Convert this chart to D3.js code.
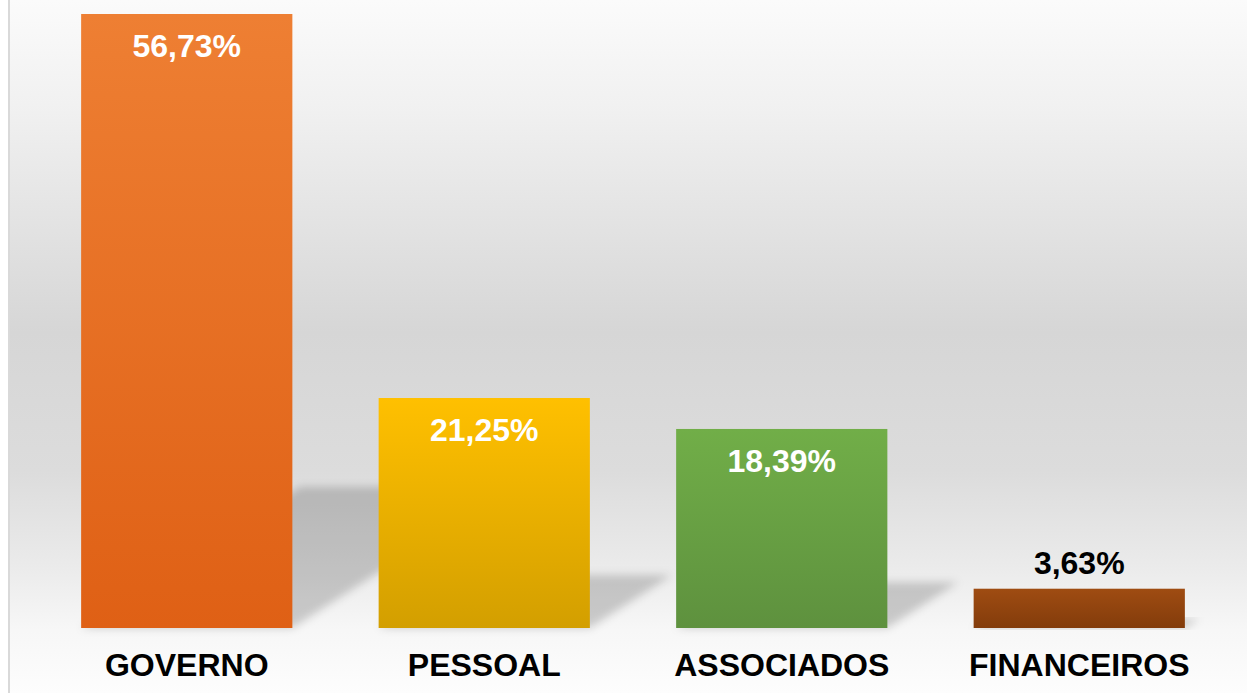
<!DOCTYPE html>
<html>
<head>
<meta charset="utf-8">
<script src="https://cdn.jsdelivr.net/npm/d3@7"></script>
<style>
  html, body { margin: 0; padding: 0; background: #ffffff; }
  svg { display: block; }
</style>
</head>
<body>
<svg id="chart" width="1247" height="693"></svg>
<script>
'use strict';

// data
const categories = ['GOVERNO', 'PESSOAL', 'ASSOCIADOS', 'FINANCEIROS'];
const values = [56.73, 21.25, 18.39, 3.63];

// bar colours (top, bottom)
const topColors = ['#ee7f33', '#ffc000', '#71ae48', '#9f4c12'];
const bottomColors = ['#df6015', '#d39f00', '#5e913e', '#833c0b'];

const W = 1247, H = 693;
const baseY = 628;

const ptFormat = d3.formatLocale({decimal: ',', thousands: '.', grouping: [3], currency: ['', '']}).format('.2f');

function drawChart() {
    const svg = d3.select('#chart');
    const defs = svg.append('defs');

    // background gradient
    const bg = defs.append('linearGradient')
        .attr('id', 'bg')
        .attr('x1', 0).attr('y1', 0).attr('x2', 0).attr('y2', 1);
    [[0, '#fbfbfb'], [0.15, '#f1f1f1'], [0.48, '#d6d6d6'], [0.68, '#dcdcdc'],
     [0.82, '#ebebeb'], [0.91, '#f7f7f7'], [1, '#fdfdfd']].forEach(function(s) {
        bg.append('stop').attr('offset', s[0]).attr('stop-color', s[1]);
    });

    categories.forEach(function(c, i) {
        const g = defs.append('linearGradient')
            .attr('id', 'bar' + i)
            .attr('x1', 0).attr('y1', 0).attr('x2', 0).attr('y2', 1);
        g.append('stop').attr('offset', 0).attr('stop-color', topColors[i]);
        g.append('stop').attr('offset', 1).attr('stop-color', bottomColors[i]);
    });

    defs.append('filter')
        .attr('id', 'blur')
        .attr('x', '-20%').attr('y', '-20%').attr('width', '140%').attr('height', '140%')
        .append('feGaussianBlur')
        .attr('stdDeviation', 4);

    svg.append('rect')
        .attr('x', 10).attr('y', 0)
        .attr('width', W - 10).attr('height', H)
        .style('fill', 'url(#bg)');

    svg.append('rect')
        .attr('x', 8).attr('y', 0)
        .attr('width', 2).attr('height', H)
        .style('fill', '#d9d9d9');

    const x = d3.scaleBand()
        .domain(categories)
        .range([38, 1228])
        .paddingInner(0.29)
        .paddingOuter(0.145);

    const y = d3.scaleLinear()
        .domain([0, d3.max(values)])
        .range([baseY, 14]);

    const data = categories.map(function(c, i) { return {cat: c, val: values[i], i: i}; });

    // perspective shadows behind the bars
    svg.append('g')
        .selectAll('path')
        .data(data)
        .enter()
        .append('path')
        .attr('d', function(d) {
            const x0 = x(d.cat), x1 = x(d.cat) + x.bandwidth();
            const h = (baseY - y(d.val)) * 0.23;
            const s = h * 1.55;
            return 'M' + x0 + ',' + baseY + 'L' + x1 + ',' + baseY +
                'L' + (x1 + s) + ',' + (baseY - h) + 'L' + (x0 + s) + ',' + (baseY - h) + 'Z';
        })
        .style('fill', '#000')
        .style('fill-opacity', 0.18)
        .attr('filter', 'url(#blur)');

    svg.append('g')
        .selectAll('rect')
        .data(data)
        .enter()
        .append('rect')
        .attr('x', function(d) { return x(d.cat); })
        .attr('y', function(d) { return y(d.val); })
        .attr('width', x.bandwidth())
        .attr('height', function(d) { return baseY - y(d.val); })
        .style('fill', function(d) { return 'url(#bar' + d.i + ')'; });

    // value labels: inside for tall bars, above for short ones
    svg.append('g')
        .selectAll('text')
        .data(data)
        .enter()
        .append('text')
        .attr('x', function(d) { return x(d.cat) + x.bandwidth() / 2; })
        .attr('y', function(d) {
            const inside = baseY - y(d.val) > 60;
            return inside ? y(d.val) + 43 : y(d.val) - 15;
        })
        .attr('text-anchor', 'middle')
        .style('font-family', 'Arial, "Liberation Sans", sans-serif')
        .style('font-weight', 'bold')
        .style('font-size', '32px')
        .style('fill', function(d) { return baseY - y(d.val) > 60 ? '#ffffff' : '#000000'; })
        .text(function(d) { return ptFormat(d.val) + '%'; });

    // category axis labels
    const axis = d3.axisBottom(x).tickSize(0).tickPadding(0);
    const ax = svg.append('g')
        .attr('transform', 'translate(0,' + baseY + ')')
        .call(axis);
    ax.select('.domain').remove();
    ax.selectAll('text')
        .attr('dy', null)
        .attr('y', 48)
        .style('font-family', 'Arial, "Liberation Sans", sans-serif')
        .style('font-weight', 'bold')
        .style('font-size', '32px')
        .style('fill', '#000');
}

drawChart();
</script>
</body>
</html>
